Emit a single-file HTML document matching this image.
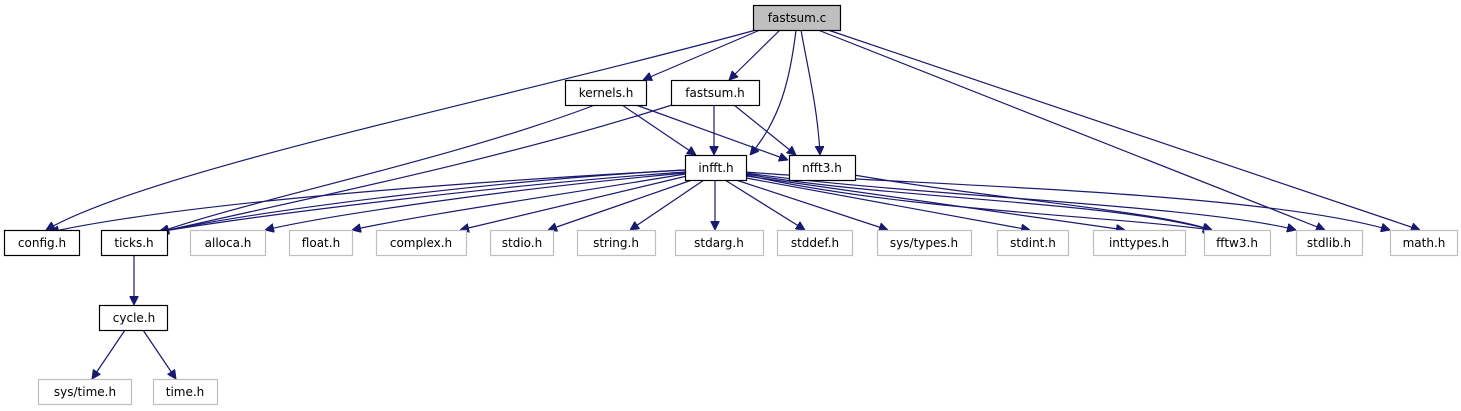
<!DOCTYPE html>
<html><head><meta charset="utf-8"><style>
html,body{margin:0;padding:0;background:#fff;}
svg{display:block;}
text{font-family:"DejaVu Sans","Liberation Sans",sans-serif;font-size:12px;fill:#000;text-anchor:middle;}
.e{fill:none;stroke:#191970;stroke-width:1.2;marker-end:url(#a);}
.b{fill:#fff;stroke:#000;stroke-width:1.2;}
.g{fill:#fff;stroke:#bfbfbf;stroke-width:1.2;}
</style></head><body>
<svg width="1461" height="411" viewBox="0 0 1461 411">
<defs><marker id="a" viewBox="0 0 10 10" refX="10" refY="5" markerWidth="9" markerHeight="9" markerUnits="userSpaceOnUse" orient="auto"><path d="M0,0 L10,5 L0,10 z" fill="#191970" stroke="#191970"/></marker></defs>
<path class="e" d="M756,30 C500,100 150,170 46,230"/>
<path class="e" d="M760,30 L643,80"/>
<path class="e" d="M780,30 L729,80"/>
<path class="e" d="M796,30 C790,80 780,120 750,155"/>
<path class="e" d="M801,30 C808,70 818,110 820,155"/>
<path class="e" d="M818,30 L1325,230"/>
<path class="e" d="M828,30 L1420,230"/>
<path class="e" d="M595,105 C450,160 250,200 160,232"/>
<path class="e" d="M622,105 L696,155"/>
<path class="e" d="M636,105 L788,160"/>
<path class="e" d="M672,105 C500,160 300,200 160,232"/>
<path class="e" d="M714,105 L714,155"/>
<path class="e" d="M734,105 L796,155"/>
<path class="e" d="M685,170 C500,180 200,200 50,232"/>
<path class="e" d="M685,170 C500,180 260,210 160,232"/>
<path class="e" d="M685,172 C500,185 260,215 158,232"/>
<path class="e" d="M685,173 C500,190 330,215 265,230"/>
<path class="e" d="M685,174 C560,195 420,215 352,230"/>
<path class="e" d="M687,176 L460,230"/>
<path class="e" d="M692,180 L548,230"/>
<path class="e" d="M704,180 L630,230"/>
<path class="e" d="M715,180 L715,230"/>
<path class="e" d="M725,180 L805,230"/>
<path class="e" d="M736,180 L888,230"/>
<path class="e" d="M746,178 L1030,230"/>
<path class="e" d="M746,176 L1125,230"/>
<path class="e" d="M746,175 C900,210 1100,215 1212,230"/>
<path class="e" d="M746,174 C900,200 1100,200 1212,230"/>
<path class="e" d="M746,173 C900,195 1200,205 1296,230"/>
<path class="e" d="M746,172 C900,185 1250,190 1390,230"/>
<path class="e" d="M854,175 C1000,200 1150,210 1212,230"/>
<path class="e" d="M134,255 L134,305"/>
<path class="e" d="M125,330 L92,379"/>
<path class="e" d="M143,330 L176,379"/>
<rect x="753.5" y="5.5" width="87" height="25" fill="#bfbfbf" stroke="#000" stroke-width="1.2"/><text x="797" y="22">fastsum.c</text>
<rect class="b" x="565.5" y="80.5" width="81" height="25"/><text x="606" y="97">kernels.h</text>
<rect class="b" x="671.5" y="80.5" width="88" height="25"/><text x="715" y="97">fastsum.h</text>
<rect class="b" x="685.5" y="155.5" width="61" height="25"/><text x="716" y="172">infft.h</text>
<rect class="b" x="789.5" y="155.5" width="66" height="25"/><text x="822" y="172">nfft3.h</text>
<rect class="b" x="4.5" y="230.5" width="75" height="25"/><text x="42" y="247">config.h</text>
<rect class="b" x="101.5" y="230.5" width="66" height="25"/><text x="134" y="247">ticks.h</text>
<rect class="g" x="190.5" y="230.5" width="75" height="25"/><text x="228" y="247">alloca.h</text>
<rect class="g" x="289.5" y="230.5" width="63" height="25"/><text x="321" y="247">float.h</text>
<rect class="g" x="376.5" y="230.5" width="90" height="25"/><text x="421" y="247">complex.h</text>
<rect class="g" x="490.5" y="230.5" width="63" height="25"/><text x="522" y="247">stdio.h</text>
<rect class="g" x="577.5" y="230.5" width="78" height="25"/><text x="616" y="247">string.h</text>
<rect class="g" x="675.5" y="230.5" width="88" height="25"/><text x="719" y="247">stdarg.h</text>
<rect class="g" x="777.5" y="230.5" width="75" height="25"/><text x="815" y="247">stddef.h</text>
<rect class="g" x="877.5" y="230.5" width="94" height="25"/><text x="924" y="247">sys/types.h</text>
<rect class="g" x="997.5" y="230.5" width="71" height="25"/><text x="1033" y="247">stdint.h</text>
<rect class="g" x="1093.5" y="230.5" width="92" height="25"/><text x="1139" y="247">inttypes.h</text>
<rect class="g" x="1204.5" y="230.5" width="66" height="25"/><text x="1237" y="247">fftw3.h</text>
<rect class="g" x="1296.5" y="230.5" width="66" height="25"/><text x="1329" y="247">stdlib.h</text>
<rect class="g" x="1390.5" y="230.5" width="67" height="25"/><text x="1424" y="247">math.h</text>
<rect class="b" x="99.5" y="305.5" width="68" height="25"/><text x="134" y="322">cycle.h</text>
<rect class="g" x="38.5" y="379.5" width="93" height="25"/><text x="85" y="396">sys/time.h</text>
<rect class="g" x="153.5" y="379.5" width="64" height="25"/><text x="185" y="396">time.h</text>
</svg>
</body></html>
